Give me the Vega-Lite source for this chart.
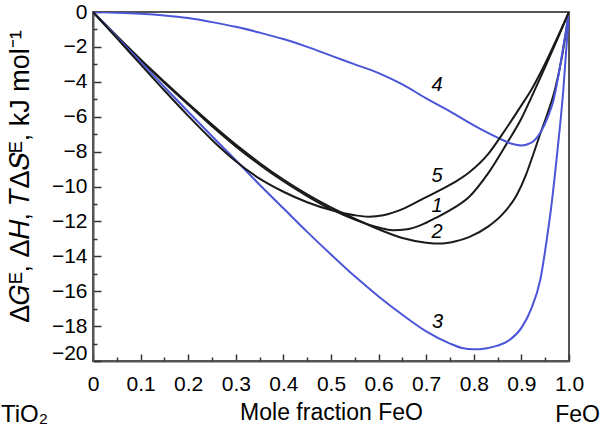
{
  "$schema": "https://vega.github.io/schema/vega-lite/v6.json",
  "width": 476,
  "height": 349,
  "autosize": "none",
  "padding": {"left": 93, "top": 12, "right": 38, "bottom": 72},
  "config": {
    "view": {"stroke": "#555555", "strokeWidth": 2},
    "font": "Liberation Sans",
    "axis": {"grid": false}
  },
  "datasets": {
    "curves": [
      {"curve": "1", "x": 0, "y": 0}, {"curve": "1", "x": 0.05, "y": -1.4}, {"curve": "1", "x": 0.1, "y": -2.75}, {"curve": "1", "x": 0.15, "y": -4.05}, {"curve": "1", "x": 0.2, "y": -5.3}, {"curve": "1", "x": 0.25, "y": -6.55}, {"curve": "1", "x": 0.3, "y": -7.7}, {"curve": "1", "x": 0.35, "y": -8.75}, {"curve": "1", "x": 0.4, "y": -9.7}, {"curve": "1", "x": 0.45, "y": -10.55}, {"curve": "1", "x": 0.5, "y": -11.3}, {"curve": "1", "x": 0.55, "y": -11.9}, {"curve": "1", "x": 0.6, "y": -12.35}, {"curve": "1", "x": 0.63, "y": -12.5}, {"curve": "1", "x": 0.66, "y": -12.45}, {"curve": "1", "x": 0.69, "y": -12.2}, {"curve": "1", "x": 0.72, "y": -11.8}, {"curve": "1", "x": 0.76, "y": -11.2}, {"curve": "1", "x": 0.79, "y": -10.6}, {"curve": "1", "x": 0.83, "y": -9.25}, {"curve": "1", "x": 0.87, "y": -7.5}, {"curve": "1", "x": 0.9, "y": -6.1}, {"curve": "1", "x": 0.92, "y": -4.95}, {"curve": "1", "x": 0.95, "y": -3.15}, {"curve": "1", "x": 0.975, "y": -1.6}, {"curve": "1", "x": 1, "y": 0},
      {"curve": "2", "x": 0, "y": 0}, {"curve": "2", "x": 0.05, "y": -1.38}, {"curve": "2", "x": 0.1, "y": -2.72}, {"curve": "2", "x": 0.15, "y": -4.0}, {"curve": "2", "x": 0.2, "y": -5.25}, {"curve": "2", "x": 0.25, "y": -6.45}, {"curve": "2", "x": 0.3, "y": -7.6}, {"curve": "2", "x": 0.35, "y": -8.65}, {"curve": "2", "x": 0.4, "y": -9.6}, {"curve": "2", "x": 0.45, "y": -10.45}, {"curve": "2", "x": 0.5, "y": -11.2}, {"curve": "2", "x": 0.55, "y": -11.85}, {"curve": "2", "x": 0.6, "y": -12.45}, {"curve": "2", "x": 0.65, "y": -12.95}, {"curve": "2", "x": 0.7, "y": -13.22}, {"curve": "2", "x": 0.73, "y": -13.27}, {"curve": "2", "x": 0.76, "y": -13.15}, {"curve": "2", "x": 0.79, "y": -12.9}, {"curve": "2", "x": 0.83, "y": -12.3}, {"curve": "2", "x": 0.86, "y": -11.6}, {"curve": "2", "x": 0.89, "y": -10.5}, {"curve": "2", "x": 0.91, "y": -9.3}, {"curve": "2", "x": 0.925, "y": -8.15}, {"curve": "2", "x": 0.94, "y": -6.95}, {"curve": "2", "x": 0.955, "y": -5.8}, {"curve": "2", "x": 0.97, "y": -4.5}, {"curve": "2", "x": 0.985, "y": -2.6}, {"curve": "2", "x": 1, "y": 0},
      {"curve": "3", "x": 0, "y": 0}, {"curve": "3", "x": 0.05, "y": -1.43}, {"curve": "3", "x": 0.1, "y": -2.86}, {"curve": "3", "x": 0.15, "y": -4.3}, {"curve": "3", "x": 0.2, "y": -5.72}, {"curve": "3", "x": 0.25, "y": -7.12}, {"curve": "3", "x": 0.3, "y": -8.5}, {"curve": "3", "x": 0.35, "y": -9.9}, {"curve": "3", "x": 0.4, "y": -11.25}, {"curve": "3", "x": 0.45, "y": -12.6}, {"curve": "3", "x": 0.5, "y": -13.9}, {"curve": "3", "x": 0.55, "y": -15.15}, {"curve": "3", "x": 0.6, "y": -16.3}, {"curve": "3", "x": 0.65, "y": -17.35}, {"curve": "3", "x": 0.7, "y": -18.3}, {"curve": "3", "x": 0.75, "y": -19.0}, {"curve": "3", "x": 0.775, "y": -19.25}, {"curve": "3", "x": 0.8, "y": -19.33}, {"curve": "3", "x": 0.825, "y": -19.28}, {"curve": "3", "x": 0.85, "y": -19.12}, {"curve": "3", "x": 0.875, "y": -18.8}, {"curve": "3", "x": 0.9, "y": -18.1}, {"curve": "3", "x": 0.92, "y": -17.05}, {"curve": "3", "x": 0.94, "y": -15.3}, {"curve": "3", "x": 0.953, "y": -13.1}, {"curve": "3", "x": 0.963, "y": -11.1}, {"curve": "3", "x": 0.974, "y": -8.4}, {"curve": "3", "x": 0.988, "y": -4.5}, {"curve": "3", "x": 1, "y": 0},
      {"curve": "4", "x": 0, "y": 0}, {"curve": "4", "x": 0.05, "y": -0.04}, {"curve": "4", "x": 0.1, "y": -0.1}, {"curve": "4", "x": 0.15, "y": -0.2}, {"curve": "4", "x": 0.2, "y": -0.35}, {"curve": "4", "x": 0.25, "y": -0.58}, {"curve": "4", "x": 0.3, "y": -0.85}, {"curve": "4", "x": 0.35, "y": -1.18}, {"curve": "4", "x": 0.4, "y": -1.55}, {"curve": "4", "x": 0.45, "y": -2.0}, {"curve": "4", "x": 0.5, "y": -2.5}, {"curve": "4", "x": 0.55, "y": -3.0}, {"curve": "4", "x": 0.6, "y": -3.5}, {"curve": "4", "x": 0.65, "y": -4.15}, {"curve": "4", "x": 0.7, "y": -4.95}, {"curve": "4", "x": 0.75, "y": -5.7}, {"curve": "4", "x": 0.8, "y": -6.5}, {"curve": "4", "x": 0.85, "y": -7.2}, {"curve": "4", "x": 0.88, "y": -7.55}, {"curve": "4", "x": 0.9, "y": -7.65}, {"curve": "4", "x": 0.92, "y": -7.5}, {"curve": "4", "x": 0.94, "y": -6.9}, {"curve": "4", "x": 0.955, "y": -6.05}, {"curve": "4", "x": 0.967, "y": -5.1}, {"curve": "4", "x": 0.98, "y": -3.3}, {"curve": "4", "x": 0.99, "y": -1.65}, {"curve": "4", "x": 1, "y": 0},
      {"curve": "5", "x": 0, "y": 0}, {"curve": "5", "x": 0.05, "y": -1.5}, {"curve": "5", "x": 0.1, "y": -3.0}, {"curve": "5", "x": 0.15, "y": -4.5}, {"curve": "5", "x": 0.2, "y": -5.95}, {"curve": "5", "x": 0.25, "y": -7.33}, {"curve": "5", "x": 0.3, "y": -8.55}, {"curve": "5", "x": 0.35, "y": -9.55}, {"curve": "5", "x": 0.4, "y": -10.3}, {"curve": "5", "x": 0.45, "y": -10.9}, {"curve": "5", "x": 0.5, "y": -11.35}, {"curve": "5", "x": 0.55, "y": -11.65}, {"curve": "5", "x": 0.58, "y": -11.73}, {"curve": "5", "x": 0.61, "y": -11.65}, {"curve": "5", "x": 0.65, "y": -11.3}, {"curve": "5", "x": 0.69, "y": -10.75}, {"curve": "5", "x": 0.73, "y": -10.2}, {"curve": "5", "x": 0.76, "y": -9.75}, {"curve": "5", "x": 0.79, "y": -9.2}, {"curve": "5", "x": 0.83, "y": -8.15}, {"curve": "5", "x": 0.86, "y": -7.0}, {"curve": "5", "x": 0.9, "y": -5.35}, {"curve": "5", "x": 0.92, "y": -4.5}, {"curve": "5", "x": 0.95, "y": -2.95}, {"curve": "5", "x": 0.975, "y": -1.5}, {"curve": "5", "x": 1, "y": 0}
    ],
    "labels": [
      {"label": "4", "x": 0.723, "y": -4.18},
      {"label": "5", "x": 0.723, "y": -9.4},
      {"label": "1", "x": 0.723, "y": -11.1},
      {"label": "2", "x": 0.723, "y": -12.6},
      {"label": "3", "x": 0.724, "y": -17.75}
    ],
    "ends": [
      {"label": "TiO₂", "x": 0, "y": -23.1},
      {"label": "FeO", "x": 1, "y": -23.1}
    ]
  },
  "resolve": {"axis": {"x": "independent", "y": "independent"}},
  "layer": [
    {
      "data": {"name": "curves"},
      "mark": {"type": "line", "interpolate": "monotone", "strokeWidth": 2, "clip": true},
      "encoding": {
        "x": {
          "field": "x", "type": "quantitative",
          "scale": {"domain": [0, 1], "nice": false, "zero": false},
          "axis": {
            "orient": "bottom",
            "values": [0, 0.1, 0.2, 0.3, 0.4, 0.5, 0.6, 0.7, 0.8, 0.9, 1],
            "labelExpr": "datum.value == 0 ? '0' : format(datum.value, '.1f')",
            "tickSize": -7, "tickWidth": 1.5, "tickColor": "#333333",
            "domainColor": "#555555", "domainWidth": 2,
            "labelFontSize": 21, "labelColor": "#000000", "labelPadding": 19,
            "labelFlush": false, "labelOverlap": false,
            "title": "Mole fraction FeO", "titleFontSize": 23, "titleFontWeight": "normal",
            "titleColor": "#000000", "titlePadding": 7
          }
        },
        "y": {
          "field": "y", "type": "quantitative",
          "scale": {"domain": [-20, 0], "nice": false, "zero": false},
          "axis": {
            "orient": "left",
            "values": [0, -2, -4, -6, -8, -10, -12, -14, -16, -18, -20],
            "tickSize": -8, "tickWidth": 1.5, "tickColor": "#333333",
            "domainColor": "#555555", "domainWidth": 2,
            "labelFontSize": 21, "labelColor": "#000000", "labelPadding": 14,
            "labelFlush": false, "labelOverlap": false,
            "labelOffset": {"condition": {"test": "datum.value == -20", "value": -8}, "value": 0},
            "title": "Δ𝐺ᴱ, Δ𝐻, 𝑇Δ𝑆ᴱ, kJ mol⁻¹", "titleFontSize": 27, "titleFontWeight": "normal",
            "titleColor": "#000000", "titleAngle": -90, "titleX": -73, "titleY": 164,
            "titleAlign": "center", "titleBaseline": "middle"
          }
        },
        "color": {
          "field": "curve", "type": "nominal",
          "scale": {"domain": ["1", "2", "3", "4", "5"], "range": ["#1a1a1a", "#1a1a1a", "#4a55d8", "#4a55d8", "#1a1a1a"]},
          "legend": null
        }
      }
    },
    {
      "data": {"name": "labels"},
      "mark": {"type": "text", "fontStyle": "italic", "fontSize": 20, "font": "Liberation Sans", "color": "#000000", "align": "center", "baseline": "middle"},
      "encoding": {
        "x": {
          "field": "x", "type": "quantitative",
          "axis": {
            "orient": "bottom",
            "values": [0.05, 0.15, 0.25, 0.35, 0.45, 0.55, 0.65, 0.75, 0.85, 0.95],
            "tickSize": -4, "tickWidth": 1.5, "tickColor": "#333333",
            "labels": false, "domain": false, "title": null
          }
        },
        "y": {
          "field": "y", "type": "quantitative",
          "axis": {
            "orient": "left",
            "values": [-1, -3, -5, -7, -9, -11, -13, -15, -17, -19],
            "tickSize": -4, "tickWidth": 1.5, "tickColor": "#333333",
            "labels": false, "domain": false, "title": null
          }
        },
        "text": {"field": "label"}
      }
    },
    {
      "data": {"name": "ends"},
      "transform": [{"filter": "datum.x == 0"}],
      "mark": {"type": "text", "fontSize": 24, "font": "Liberation Sans", "color": "#000000", "align": "left", "baseline": "middle", "dx": -92},
      "encoding": {
        "x": {"field": "x", "type": "quantitative", "axis": null},
        "y": {"field": "y", "type": "quantitative", "axis": null},
        "text": {"field": "label"}
      }
    },
    {
      "data": {"name": "ends"},
      "transform": [{"filter": "datum.x == 1"}],
      "mark": {"type": "text", "fontSize": 23, "font": "Liberation Sans", "color": "#000000", "align": "right", "baseline": "middle", "dx": 31},
      "encoding": {
        "x": {"field": "x", "type": "quantitative", "axis": null},
        "y": {"field": "y", "type": "quantitative", "axis": null},
        "text": {"field": "label"}
      }
    }
  ]
}
